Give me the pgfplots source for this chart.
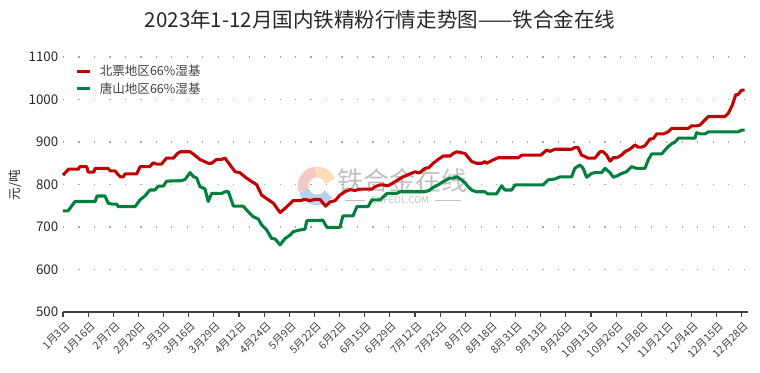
\documentclass[border=0pt]{standalone}
\usepackage{fontspec}
\setmainfont{Noto Sans CJK SC}
\usepackage{pgfplots}
\usepackage{pgfplotstable}
\pgfplotsset{compat=1.18}
\definecolor{bpred}{RGB}{192,0,0}
\definecolor{tsgreen}{RGB}{0,128,60}
\definecolor{txtgray}{RGB}{64,64,64}
\definecolor{wmgray}{RGB}{192,192,192}

\pgfplotstableread{
x y
0 822
2 836
5.5 836
6 842
8.5 842
9 829
11 829
11.5 838
16 838
17 832
18.6 832
19.5 825
20.5 818
21.6 818
22.2 825
26.4 825
27.6 842
31 842
32.3 851
33.5 848
35.3 848
37 862
39.5 862
41 873
42 877
45.5 877
46.6 872
49 859
52 850
53.2 850
55 859
56.8 859
58 862
59.8 846
61.6 830
63.3 828
65.1 818
67.5 807
69.3 800
71.1 775
73.5 764
75.3 756
77.7 734
79.5 744
82.4 762
84.8 762
86.6 765
88.4 762
90.2 765
92 765
94 749
95.6 759
97.4 762
99.1 775
100.9 783
102.7 788
104.5 786
106.3 789
110.5 789
111.7 795
113.5 799
114.7 799
116.3 797
118 803
119.9 811
121.7 818
124.2 825
126 830
127.5 827
129.6 838
131 840
132.5 850
134.3 859
136.1 867
138.5 867
139.7 873
140.9 877
143.9 873
145 864
146.3 854
148 850
150 850
151 854
151.6 850
152.8 854
154 858
155.8 863
163 863
164.2 869
171 869
173.1 881
174.3 878
176.1 883
182.1 883
183.2 887
184.4 887
185.6 869
186.8 866
188 862
190.4 862
192.2 877
193.4 877
194.6 869
195.8 855
197 863
198.2 863
199.9 869
201.1 877
202.9 883
204.7 893
205.9 888
207.1 888
208.3 891
210.1 907
211.3 908
212.5 919
214.9 919
216.6 924
217.9 932
223.8 932
225 938
226.8 938
228 940
229.2 948
231 960
236.9 960
238.1 967
239.6 987
240.8 1011
241.7 1012
242.9 1022
244 1022
}\beipiao

\pgfplotstableread{
x y
0 738
1.8 738
4.3 760
11.5 760
12.2 773
15 773
16.2 756
17.5 754
19.2 754
19.8 748
25.8 748
27.6 764
29.3 773
31.1 787
32.9 787
34.1 796
35.9 796
37.1 808
42.5 809
43.7 812
45.5 828
46.6 819
47.9 815
49 795
50.8 790
52 760
53.2 779
56.8 779
58 783
59.2 783
61 749
64.5 749
66.3 736
68.1 724
69.9 719
71.1 705
72.9 693
74.7 673
75.9 672
77.7 658
79.5 673
81.3 681
82.4 689
84.8 693
86.6 695
87.3 715
93 716
94.5 699
99.1 699
100.2 726
103.8 726
105.2 748
109.2 748
110.6 764
113.5 764
116 779
119.5 779
120.6 783
127.8 783
129.6 783
131 786
132.5 793
134.3 799
136.1 807
138.5 815
139.7 815
140.9 818
141.8 815
143.9 804
145 795
146.5 786
148 783
151 783
152 778
155.2 778
157 797
158.2 787
160.6 787
161.8 799
171.8 799
173.7 811
176.1 813
177.9 818
182.1 818
183.2 838
185 846
186.2 838
187.4 817
189.2 826
190.4 828
192.8 828
194 838
195.8 828
197 817
198.2 820
200 826
201.7 830
203.5 842
205.3 838
208.3 838
209.5 858
210.7 872
214.3 872
215.5 881
216.6 889
217.9 896
219.1 900
220.3 909
226.2 909
226.8 922
228 919
229.8 919
231 924
241.7 924
242.9 928
244 928
}\tangshan

\begin{document}
\begin{tikzpicture}
% watermark
\draw[line width=8pt, color={rgb,255:red,245;green,200;blue,200}] (237.75pt,139.5pt) ++(95:10.5pt) arc[start angle=95,end angle=200,radius=10.5pt];
\draw[line width=8pt, color={rgb,255:red,250;green,220;blue,185}] (237.75pt,139.5pt) ++(20:10.5pt) arc[start angle=20,end angle=95,radius=10.5pt];
\draw[line width=8pt, color={rgb,255:red,185;green,210;blue,240}] (237.75pt,139.5pt) ++(200:10.5pt) arc[start angle=200,end angle=325,radius=10.5pt];
\node[text=wmgray, font=\fontsize{19.5}{20}\selectfont, inner sep=0pt] at (302pt,144pt) {铁合金在线};
\node[text=wmgray, font=\fontsize{7}{7}\selectfont, inner sep=0pt] at (300pt,129pt) {ENFEOL.COM};
\draw[wmgray, line width=0.5pt] (259pt,129pt) -- (274pt,129pt);
\draw[wmgray, line width=0.5pt] (326pt,129pt) -- (346pt,129pt);

\begin{axis}[
  at={(47.25pt,45pt)}, anchor=south west,
  scale only axis, width=513.75pt, height=191.25pt,
  xmin=0, xmax=245.2, ymin=500, ymax=1100,
  axis x line*=bottom, axis y line*=left,
  y axis line style={draw=none},
  x axis line style={draw=black!75, line width=0.8pt},
  ytick={500,600,...,1100},
  ytick style={draw=none},
  xtick={0,9,...,243},
  xtick align=outside,
  major tick length=3.5pt,
  xtick style={draw=black!75, line width=0.8pt},
  xticklabels={1月3日,1月16日,2月7日,2月20日,3月3日,3月16日,3月29日,4月12日,4月24日,5月9日,5月22日,6月2日,6月15日,6月29日,7月12日,7月25日,8月7日,8月18日,8月31日,9月13日,9月26日,10月13日,10月26日,11月8日,11月21日,12月4日,12月15日,12月28日},
  xticklabel style={rotate=45, anchor=east, font=\fontsize{8}{9}\selectfont, text=txtgray, inner sep=1pt, yshift=-6.5pt},
  yticklabel style={font=\fontsize{10}{11}\selectfont, text=black!85},
  /pgf/number format/assume math mode=true,
  /pgf/number format/1000 sep={},
  ymajorgrids,
  major grid style={draw=black!35, line width=0.9pt, dash pattern=on 0.9pt off 10.7pt},
  legend style={at={(axis description cs:0.012,0.99)}, anchor=north west, draw=none, fill=none,
    font=\fontsize{9.4}{10}\selectfont, text=txtgray, row sep=-0.5pt,
    /tikz/every odd column/.append style={column sep=4pt}},
  legend cell align=left,
  legend image code/.code={\draw[#1] (0pt,0pt) -- (10pt,0pt);},
  clip=false,
]
\addplot[bpred, line width=2.3pt, line join=round] table[x=x,y=y] {\beipiao};
\addlegendentry{北票地区66\%湿基}
\addplot[tsgreen, line width=2.3pt, line join=round] table[x=x,y=y] {\tangshan};
\addlegendentry{唐山地区66\%湿基}
\end{axis}
\node[font=\fontsize{15.4}{16}\selectfont, text=black!85] at (285pt,264pt) {2023年1-12月国内铁精粉行情走势图——铁合金在线};
\node[rotate=90, font=\fontsize{9.5}{10}\selectfont, text=black!85] at (11.25pt,140pt) {元/吨};
\pgfresetboundingbox
\useasboundingbox (0pt,0pt) rectangle (570pt,279pt);
\end{tikzpicture}
\end{document}
